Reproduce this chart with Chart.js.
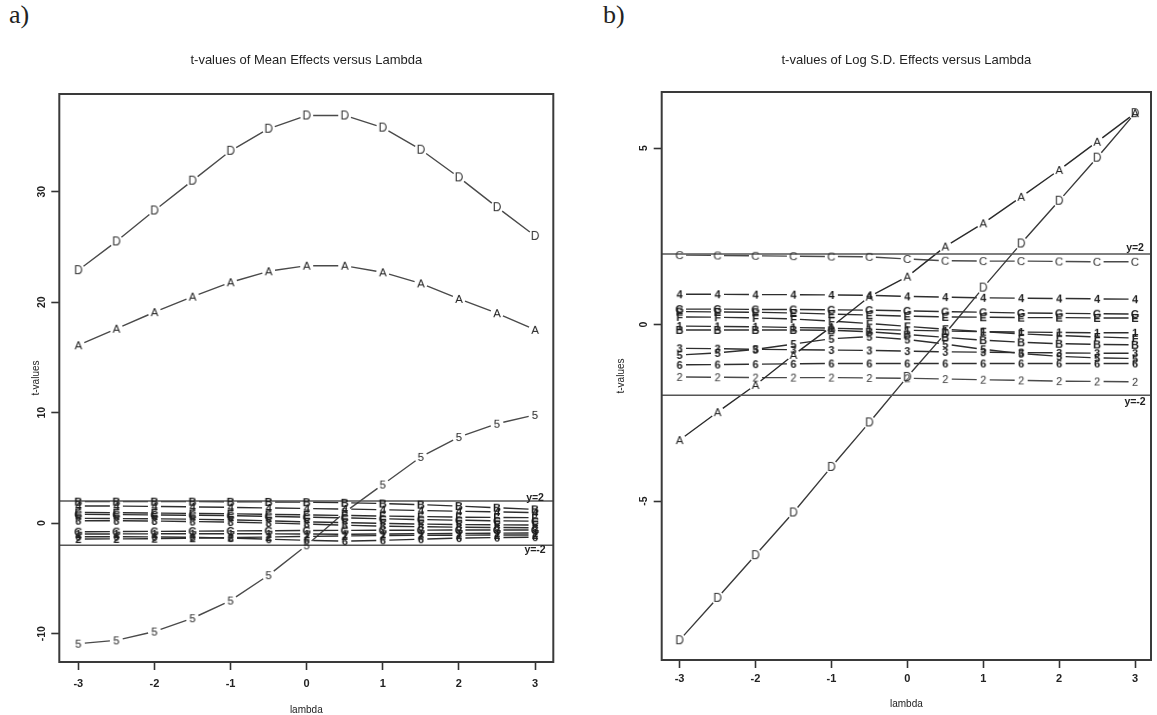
<!DOCTYPE html>
<html>
<head>
<meta charset="utf-8">
<script src="https://cdn.jsdelivr.net/npm/chart.js@4.4.1/dist/chart.umd.min.js"></script>
<style>
html, body { margin: 0; padding: 0; background: #fff; }
#page { position: relative; width: 1157px; height: 715px; overflow: hidden; background: #fff; }
#page canvas { position: absolute; top: 0; }
#cvMean { left: 0; }
#cvSd { left: 578px; }
.tag { position: absolute; top: 0; font: 26px "Liberation Serif", "DejaVu Serif", serif; color: #222; }
</style>
</head>
<body>
<div id="page">
  <div class="tag" style="left:9px">a)</div>
  <div class="tag" style="left:603px">b)</div>
  <canvas id="cvMean" width="578" height="715" style="width:578px;height:715px"></canvas>
  <canvas id="cvSd" width="579" height="715" style="width:579px;height:715px"></canvas>
</div>
<script>
const lambdas = [-3, -2.5, -2, -1.5, -1, -0.5, 0, 0.5, 1, 1.5, 2, 2.5, 3];

// t-values of the mean effects
const meanD = [22.9, 25.5, 28.3, 31.0, 33.7, 35.7, 36.9, 36.9, 35.8, 33.8, 31.3, 28.6, 26.0];
const meanA = [16.1, 17.6, 19.1, 20.5, 21.8, 22.8, 23.3, 23.3, 22.7, 21.7, 20.3, 19.0, 17.5];
const mean5 = [-10.9, -10.6, -9.8, -8.6, -7.0, -4.7, -2.0, 1.0, 3.5, 6.0, 7.8, 9.0, 9.8];
const meanB = [1.95, 1.95, 1.95, 1.95, 1.94, 1.93, 1.90, 1.85, 1.78, 1.68, 1.55, 1.40, 1.25];
const mean4 = [1.56, 1.55, 1.52, 1.48, 1.43, 1.38, 1.33, 1.28, 1.22, 1.15, 1.08, 1.02, 0.95];
const meanE = [0.98, 0.95, 0.92, 0.88, 0.85, 0.80, 0.75, 0.70, 0.65, 0.60, 0.55, 0.52, 0.50];
const meanC = [0.80, 0.78, 0.75, 0.72, 0.68, 0.62, 0.55, 0.48, 0.40, 0.33, 0.27, 0.22, 0.18];
const meanF = [0.44, 0.42, 0.40, 0.36, 0.30, 0.22, 0.12, 0.05, -0.02, -0.08, -0.12, -0.15, -0.17];
const mean3 = [0.23, 0.22, 0.20, 0.15, 0.10, 0.02, -0.08, -0.18, -0.26, -0.32, -0.36, -0.39, -0.41];
const meanG = [-0.77, -0.76, -0.74, -0.72, -0.70, -0.68, -0.66, -0.65, -0.64, -0.63, -0.62, -0.62, -0.62];
const mean1 = [-0.98, -0.97, -0.96, -0.95, -0.95, -0.96, -0.98, -1.00, -0.98, -0.95, -0.92, -0.90, -0.88];
const mean6 = [-1.22, -1.22, -1.24, -1.28, -1.35, -1.45, -1.55, -1.62, -1.55, -1.45, -1.35, -1.30, -1.26];
const mean2 = [-1.43, -1.42, -1.40, -1.36, -1.30, -1.25, -1.20, -1.15, -1.12, -1.10, -1.08, -1.07, -1.06];

// t-values of the log s.d. effects
const sdA = [-3.27, -2.48, -1.71, -0.86, -0.06, 0.79, 1.36, 2.21, 2.87, 3.62, 4.38, 5.18, 5.99];
const sdD = [-8.94, -7.74, -6.53, -5.32, -4.03, -2.77, -1.48, -0.25, 1.05, 2.30, 3.51, 4.73, 5.99];
const sdC = [1.97, 1.96, 1.95, 1.94, 1.93, 1.92, 1.86, 1.81, 1.80, 1.80, 1.79, 1.78, 1.78];
const sd4 = [0.86, 0.86, 0.85, 0.85, 0.84, 0.83, 0.80, 0.78, 0.76, 0.75, 0.74, 0.73, 0.72];
const sdG = [0.44, 0.44, 0.43, 0.43, 0.42, 0.41, 0.39, 0.37, 0.35, 0.33, 0.32, 0.31, 0.30];
const sdE = [0.37, 0.36, 0.35, 0.33, 0.30, 0.27, 0.24, 0.22, 0.21, 0.20, 0.20, 0.19, 0.19];
const sdF = [0.22, 0.21, 0.19, 0.16, 0.10, 0.03, -0.05, -0.13, -0.20, -0.26, -0.31, -0.35, -0.38];
const sd1 = [-0.04, -0.05, -0.06, -0.08, -0.10, -0.13, -0.16, -0.18, -0.20, -0.21, -0.22, -0.23, -0.23];
const sdB = [-0.15, -0.15, -0.15, -0.15, -0.16, -0.20, -0.28, -0.36, -0.44, -0.50, -0.54, -0.56, -0.57];
const sd3 = [-0.67, -0.68, -0.70, -0.71, -0.72, -0.73, -0.75, -0.77, -0.78, -0.79, -0.80, -0.81, -0.81];
const sd5 = [-0.86, -0.80, -0.70, -0.55, -0.40, -0.34, -0.42, -0.55, -0.70, -0.82, -0.90, -0.94, -0.96];
const sd6 = [-1.14, -1.13, -1.12, -1.11, -1.10, -1.10, -1.10, -1.10, -1.10, -1.10, -1.10, -1.10, -1.10];
const sd2 = [-1.48, -1.49, -1.50, -1.50, -1.50, -1.51, -1.52, -1.54, -1.56, -1.58, -1.60, -1.61, -1.62];

const refLevels = [2, -2];
const refLabels = ['y=2', 'y=-2'];

const FONT = '"Liberation Sans", Arial, Helvetica, sans-serif';
const GAP = 6.5;

// small canvas holding one plotting character, used as the point symbol
function glyph(ch, size, color, weight) {
    const c = document.createElement('canvas');
    c.width = 16;
    c.height = 16;
    const g = c.getContext('2d');
    g.font = weight + ' ' + size + 'px ' + FONT;
    g.fillStyle = color;
    g.textAlign = 'center';
    g.textBaseline = 'middle';
    g.fillText(ch, 8, 8.5);
    return c;
}

function charSeries(ch, values, size, color, lineColor, weight) {
    return {
        data: values.map((v, i) => ({ x: lambdas[i], y: v })),
        showLine: false,
        gapped: true,
        segColor: lineColor,
        segWidth: 1.4,
        pointStyle: glyph(ch, size, color, weight || 'normal'),
        pointRadius: 5,
    };
}

function refSeries(level, xMin, xMax) {
    return {
        data: [{ x: xMin, y: level }, { x: xMax, y: level }],
        showLine: true,
        borderColor: '#555',
        borderWidth: 1.5,
        pointRadius: 0,
    };
}

const panelPlugin = {
    id: 'panel',
    beforeDatasetsDraw(chart) {
        // type="b" style: segments stop short of each plotting character
        const ctx = chart.ctx;
        chart.data.datasets.forEach((ds, i) => {
            if (!ds.gapped) return;
            const pts = chart.getDatasetMeta(i).data;
            ctx.save();
            ctx.strokeStyle = ds.segColor;
            ctx.lineWidth = ds.segWidth;
            ctx.beginPath();
            for (let k = 0; k < pts.length - 1; k++) {
                const a = pts[k], b = pts[k + 1];
                const dx = b.x - a.x, dy = b.y - a.y;
                const len = Math.hypot(dx, dy);
                if (len <= 2 * GAP) continue;
                const ux = dx / len, uy = dy / len;
                ctx.moveTo(a.x + ux * GAP, a.y + uy * GAP);
                ctx.lineTo(b.x - ux * GAP, b.y - uy * GAP);
            }
            ctx.stroke();
            ctx.restore();
        });
    },
    afterDraw(chart, args, opts) {
        const ctx = chart.ctx;
        const area = chart.chartArea;
        const xs = chart.scales.x, ys = chart.scales.y;
        ctx.save();

        ctx.strokeStyle = '#3a3a3a';
        ctx.lineWidth = 2;
        ctx.strokeRect(area.left, area.top, area.right - area.left, area.bottom - area.top);

        ctx.fillStyle = '#222';
        ctx.textAlign = 'center';
        ctx.textBaseline = 'middle';

        // rotated y tick labels
        ctx.font = 'bold 10.5px ' + FONT;
        ys.ticks.forEach(t => {
            const y = ys.getPixelForValue(t.value);
            ctx.save();
            ctx.translate(opts.yLabelX, y);
            ctx.rotate(-Math.PI / 2);
            ctx.fillText(String(t.value), 0, 0);
            ctx.restore();
        });

        const cx = (area.left + area.right) / 2;
        ctx.font = '13px ' + FONT;
        ctx.fillStyle = '#222';
        ctx.fillText(opts.title, cx, 60);

        ctx.font = '10px ' + FONT;
        ctx.fillText('lambda', cx, opts.xTitleY);
        ctx.save();
        ctx.translate(opts.yTitleX, (area.top + area.bottom) / 2);
        ctx.rotate(-Math.PI / 2);
        ctx.fillText('t-values', 0, 0);
        ctx.restore();

        ctx.font = 'bold 10.5px ' + FONT;
        const lx = xs.getPixelForValue(3);
        refLevels.forEach((lev, i) => {
            const off = lev > 0 ? opts.aboveOff : opts.belowOff;
            ctx.fillText(refLabels[i], lx, ys.getPixelForValue(lev) + off);
        });
        ctx.restore();
    },
};

function makeChart(id, cfg) {
    const datasets = cfg.series.map(s => charSeries(s[0], s[1], s[2], s[3], s[4], s[5]));
    refLevels.forEach(l => datasets.push(refSeries(l, cfg.xMin, cfg.xMax)));
    return new Chart(document.getElementById(id), {
        type: 'scatter',
        data: { datasets: datasets },
        plugins: [panelPlugin],
        options: {
            responsive: false,
            animation: false,
            events: [],
            layout: { padding: { top: cfg.top, right: cfg.padRight, left: 0, bottom: 0 } },
            plugins: {
                legend: { display: false },
                tooltip: { enabled: false },
                panel: {
                    title: cfg.title,
                    yLabelX: cfg.yLabelX,
                    yTitleX: cfg.yTitleX,
                    xTitleY: cfg.xTitleY,
                    aboveOff: cfg.aboveOff,
                    belowOff: cfg.belowOff,
                },
            },
            scales: {
                x: {
                    type: 'linear',
                    min: cfg.xMin,
                    max: cfg.xMax,
                    afterFit: s => { s.height = cfg.axisH; },
                    border: { display: false },
                    grid: { drawOnChartArea: false, drawTicks: true, tickLength: 8, tickColor: '#333', tickWidth: 1.6 },
                    ticks: {
                        stepSize: 1,
                        includeBounds: false,
                        autoSkip: false,
                        maxRotation: 0,
                        padding: cfg.xTickPad,
                        color: '#222',
                        font: { size: 11, family: FONT, weight: 'bold' },
                    },
                },
                y: {
                    type: 'linear',
                    min: cfg.yMin,
                    max: cfg.yMax,
                    afterFit: s => { s.width = cfg.axisW; },
                    border: { display: false },
                    grid: { drawOnChartArea: false, drawTicks: true, tickLength: 8, tickColor: '#333', tickWidth: 1.6 },
                    ticks: { stepSize: cfg.yStep, includeBounds: false, display: false },
                },
            },
        },
    });
}

const ink = '#1c1c1c', soft = '#333', line = '#4a4a4a', clusterLine = '#2e2e2e';

makeChart('cvMean', {
    title: 't-values of Mean Effects versus Lambda',
    series: [
        ['D', meanD, 12, soft, line], ['A', meanA, 11.5, ink, line], ['5', mean5, 11.5, ink, line],
        ['B', meanB, 11, ink, clusterLine, 'bold'], ['4', mean4, 11, ink, clusterLine, 'bold'],
        ['E', meanE, 11, ink, clusterLine, 'bold'], ['C', meanC, 11, ink, clusterLine, 'bold'],
        ['F', meanF, 11, ink, clusterLine, 'bold'], ['3', mean3, 11, ink, clusterLine, 'bold'],
        ['G', meanG, 11, ink, clusterLine, 'bold'], ['1', mean1, 11, ink, clusterLine, 'bold'],
        ['6', mean6, 11, ink, clusterLine, 'bold'], ['2', mean2, 11, ink, clusterLine, 'bold'],
    ],
    xMin: -3.25, xMax: 3.24, yMin: -12.56, yMax: 38.84, yStep: 10,
    top: 94, padRight: 24.7, axisW: 59.3, axisH: 53, xTickPad: 7,
    yLabelX: 42, yTitleX: 36, xTitleY: 710, aboveOff: -3, belowOff: 5,
});

makeChart('cvSd', {
    title: 't-values of Log S.D. Effects versus Lambda',
    series: [
        ['C', sdC, 11.5, soft, line], ['4', sd4, 11, ink, clusterLine, 'bold'],
        ['G', sdG, 11, ink, clusterLine, 'bold'], ['E', sdE, 11, ink, clusterLine, 'bold'],
        ['F', sdF, 11, ink, clusterLine, 'bold'], ['1', sd1, 11, ink, clusterLine, 'bold'],
        ['B', sdB, 11, ink, clusterLine, 'bold'], ['3', sd3, 11, ink, clusterLine, 'bold'],
        ['5', sd5, 11, ink, clusterLine, 'bold'], ['6', sd6, 11, ink, clusterLine, 'bold'],
        ['2', sd2, 11, soft, line],
        ['A', sdA, 11.5, ink, '#2a2a2a'], ['D', sdD, 12, soft, '#3a3a3a'],
    ],
    xMin: -3.235, xMax: 3.21, yMin: -9.5, yMax: 6.59, yStep: 5,
    top: 92, padRight: 5.3, axisW: 83.7, axisH: 55, xTickPad: 4,
    yLabelX: 66, yTitleX: 43, xTitleY: 704, aboveOff: -6, belowOff: 7,
});
</script>
</body>
</html>
